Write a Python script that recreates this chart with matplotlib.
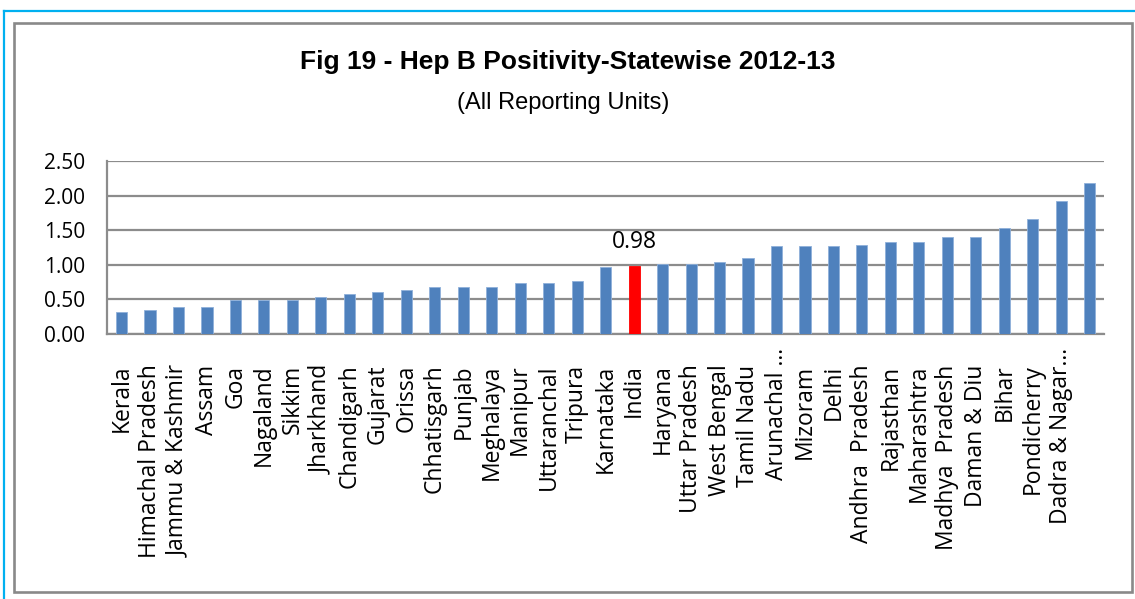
import matplotlib
matplotlib.use("Agg")
import matplotlib.pyplot as plt
from matplotlib import font_manager
from matplotlib.patches import Rectangle
from matplotlib.lines import Line2D

# ---- data ----
states = ["Kerala", "Himachal Pradesh", "Jammu & Kashmir", "Assam", "Goa", "Nagaland",
          "Sikkim", "Jharkhand", "Chandigarh", "Gujarat", "Orissa", "Chhatisgarh",
          "Punjab", "Meghalaya", "Manipur", "Uttaranchal", "Tripura", "Karnataka",
          "India", "Haryana", "Uttar Pradesh", "West Bengal", "Tamil Nadu",
          "Arunachal \u2026", "Mizoram", "Delhi", "Andhra  Pradesh", "Rajasthan",
          "Maharashtra", "Madhya  Pradesh", "Daman & Diu", "Bihar", "Pondicherry",
          "Dadra & Nagar\u2026", ""]
positivity = [0.32, 0.35, 0.39, 0.39, 0.49, 0.49, 0.49, 0.53, 0.58, 0.61, 0.64, 0.68,
              0.68, 0.68, 0.74, 0.74, 0.77, 0.97, 0.98, 1.01, 1.01, 1.04, 1.10,
              1.27, 1.27, 1.27, 1.29, 1.33, 1.33, 1.40, 1.40, 1.53, 1.66, 1.92, 2.18]
highlight = "India"
yticks = [0.0, 0.5, 1.0, 1.5, 2.0, 2.5]
title = "Fig 19 - Hep B Positivity-Statewise 2012-13"
subtitle = "(All Reporting Units)"

names = {f.name for f in font_manager.fontManager.ttflist}
narrow = "Liberation Sans Narrow" if "Liberation Sans Narrow" in names else "Liberation Sans"
label_font = "Open Sans" if "Open Sans" in names else "DejaVu Sans"

W, H = 1135, 599
fig = plt.figure(figsize=(W / 100, H / 100), dpi=100)
fig.patch.set_facecolor("white")

def fx(px):
    return px / W

def fy(py):
    return 1 - py / H

# outer cyan frame lines
fig.add_artist(Line2D([fx(4), fx(4)], [fy(11), fy(599)], color="#00B0F0", lw=1.6,
                      transform=fig.transFigure))
fig.add_artist(Line2D([fx(4), fx(1135)], [fy(11), fy(11)], color="#00B0F0", lw=1.6,
                      transform=fig.transFigure))
# inner gray chart border
fig.add_artist(Rectangle((fx(14), fy(592.3)), fx(1132) - fx(14), fy(22.7) - fy(592.3),
                         fill=False, edgecolor="#898989", lw=1.9, transform=fig.transFigure))

ax = fig.add_axes([fx(107.3), fy(334), fx(1104) - fx(107.3), fy(161.3) - fy(334)])
x = list(range(len(states)))
colors = ["#FF0000" if s == highlight else "#4F81BD" for s in states]
ax.bar(x, positivity, width=0.39, color=colors, edgecolor=[
    "#FF0000" if s == highlight else "#8FB0DA" for s in states], linewidth=0.6, zorder=3)

ax.set_xlim(-0.5, len(states) - 0.5)
ax.set_ylim(0, 2.5)
ax.set_yticks(yticks)
ax.set_yticklabels([f"{v:.2f}" for v in yticks], fontfamily=label_font, fontsize=15)
ax.set_xticks(x)
ax.set_xticklabels(states, rotation=90, fontfamily=label_font, fontsize=16.5, va="top")
ax.tick_params(axis="y", length=0, pad=16)
ax.tick_params(axis="x", length=0, pad=22)
for i, s in enumerate(states):
    if s.endswith("\u2026"):
        ax.xaxis.get_major_ticks()[i].set_pad(10)

ax.grid(axis="y", color="#8C8C8C", lw=1.6, zorder=0)
ax.set_axisbelow(True)
for side in ["top", "right"]:
    ax.spines[side].set_visible(False)
for side in ["left", "bottom"]:
    ax.spines[side].set_color("#8C8C8C")
    ax.spines[side].set_linewidth(1.6)

hi = states.index(highlight)
ax.annotate(f"{positivity[hi]:.2f}", (hi, positivity[hi]), xytext=(0, 9),
            textcoords="offset points", ha="center", va="bottom",
            fontfamily=label_font, fontsize=16.5)

fig.text(fx(568), fy(62), title, ha="center", va="center", fontfamily=narrow,
         fontweight="bold", fontsize=19)
fig.text(fx(563), fy(103), subtitle, ha="center", va="center", fontfamily=narrow,
         fontsize=17)

fig.savefig("out.png", dpi=100, facecolor="white")
